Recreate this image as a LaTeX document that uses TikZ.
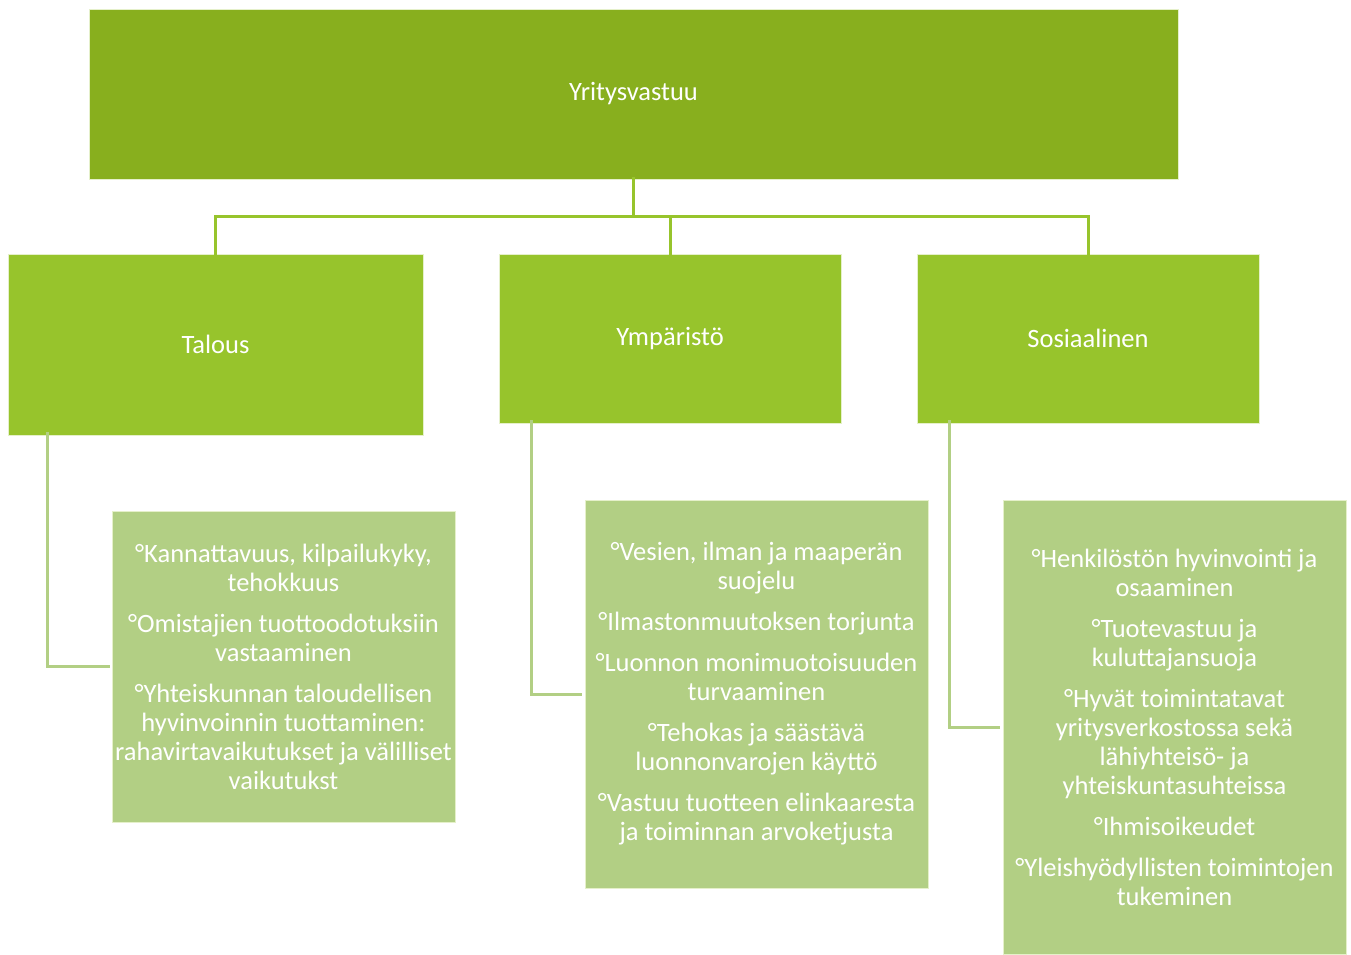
\documentclass[tikz,border=0pt]{standalone}
\usepackage{fontspec}
\setmainfont{Carlito}
\definecolor{topgreen}{HTML}{88AF1E}
\definecolor{midgreen}{HTML}{97C42C}
\definecolor{lightgreen}{HTML}{B2CF84}
\tikzset{
  base/.style={rectangle, draw=white!75!midgreen, line width=0.8pt, text=white, align=center, inner sep=0pt,
    font=\fontsize{26.5}{29}\selectfont},
  topbox/.style={base, fill=topgreen},
  catbox/.style={base, fill=midgreen},
  itembox/.style={base, fill=lightgreen},
  busline/.style={draw=midgreen, line width=3pt},
  brline/.style={draw=lightgreen, line width=3pt},
}
\begin{document}
\begin{tikzpicture}[x=1pt,y=-1pt]
\useasboundingbox (0,0) rectangle (1351,954);
\node[topbox, minimum width=1089pt, minimum height=170pt] (top) at (633.5,94) {Yritysvastuu};
\node[catbox, minimum width=415pt, minimum height=181pt] (tal) at (215.5,344.5) {Talous};
\node[catbox, minimum width=342pt, minimum height=169pt] (ymp) at (670,338.5) {Ympäristö};
\node[catbox, minimum width=342pt, minimum height=169pt] (sos) at (1088,338.5) {Sosiaalinen};
\node[itembox, minimum width=343pt, minimum height=311pt] (ct) at (283.5,666.5)
 {°Kannattavuus, kilpailukyky,\\ tehokkuus\\[12pt]
  °Omistajien tuottoodotuksiin\\ vastaaminen\\[12pt]
  °Yhteiskunnan taloudellisen\\ hyvinvoinnin tuottaminen:\\ rahavirtavaikutukset ja välilliset\\ vaikutukst};
\node[itembox, minimum width=343pt, minimum height=388pt] (cy) at (756.5,694)
 {°Vesien, ilman ja maaperän\\ suojelu\\[12pt]
  °Ilmastonmuutoksen torjunta\\[12pt]
  °Luonnon monimuotoisuuden\\ turvaaminen\\[12pt]
  °Tehokas ja säästävä\\ luonnonvarojen käyttö\\[12pt]
  °Vastuu tuotteen elinkaaresta\\ ja toiminnan arvoketjusta};
\node[itembox, minimum width=343pt, minimum height=454pt] (cs) at (1174.5,727)
 {°Henkilöstön hyvinvointi ja\\ osaaminen\\[12pt]
  °Tuotevastuu ja\\ kuluttajansuoja\\[12pt]
  °Hyvät toimintatavat\\ yritysverkostossa sekä\\ lähiyhteisö- ja\\ yhteiskuntasuhteissa\\[12pt]
  °Ihmisoikeudet\\[12pt]
  °Yleishyödyllisten toimintojen\\ tukeminen};
\coordinate (bus) at (633.5,216);
\draw[busline] ([yshift=2pt]top.south) -- (bus);
\draw[busline] (bus) -| ([yshift=-4pt]tal.north);
\draw[busline] (bus) -| ([yshift=-4pt]ymp.north);
\draw[busline] (bus) -| ([yshift=-4pt]sos.north);
\draw[brline] ([xshift=40pt,yshift=3pt]tal.south west) |- ([xshift=-2pt]ct.west);
\draw[brline] ([xshift=33pt,yshift=3pt]ymp.south west) |- ([xshift=-3pt]cy.west);
\draw[brline] ([xshift=33pt,yshift=3pt]sos.south west) |- ([xshift=-3pt]cs.west);
\end{tikzpicture}
\end{document}
